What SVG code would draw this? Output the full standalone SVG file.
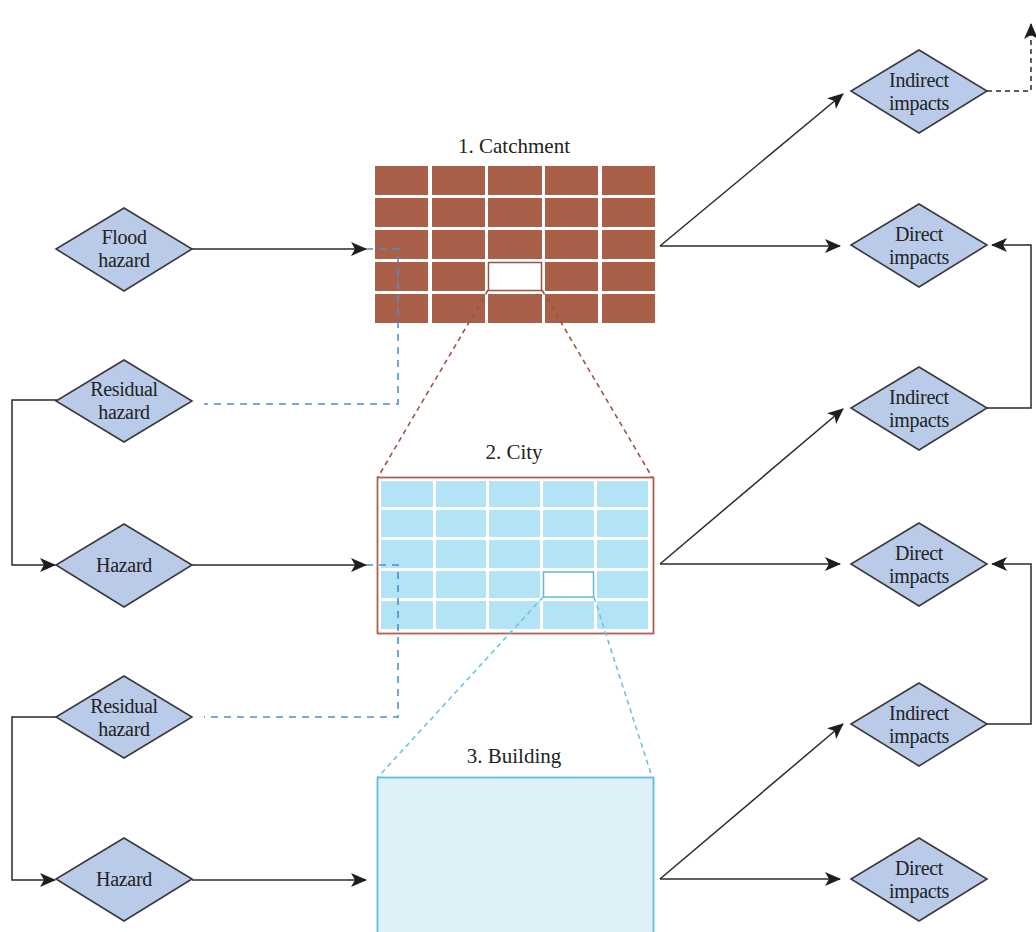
<svg xmlns="http://www.w3.org/2000/svg" width="1036" height="932" viewBox="0 0 1036 932">
<style>
.dia{fill:#bacbea;stroke:#3a3a3a;stroke-width:1.6}
.lbl{font-family:"Liberation Serif",serif;font-size:20px;fill:#222;text-anchor:middle;letter-spacing:-0.3px}
.ttl{font-family:"Liberation Serif",serif;font-size:21px;fill:#222;text-anchor:middle}
.con{fill:none;stroke:#2a2a2a;stroke-width:1.5}
.bd{fill:none;stroke:#4a8fd6;stroke-width:1.6;stroke-dasharray:7,6}
.rd{fill:none;stroke:#a0523f;stroke-width:1.6;stroke-dasharray:5,4}
.ld{fill:none;stroke:#6cc3e6;stroke-width:1.6;stroke-dasharray:5,4}
.bk{fill:#a95f48}
.cb{fill:#b3e4f6}
</style>
<defs>
<marker id="ah" markerUnits="userSpaceOnUse" markerWidth="18" markerHeight="16" refX="15" refY="7" orient="auto">
<path d="M0,0 L16,7 L0,14 L4,7 z" fill="#1e1e1e"/>
</marker>
</defs>

<g id="catchment">
<text class="ttl" x="514" y="153">1. Catchment</text>
<g class="bk">
<rect x="375" y="166" width="53" height="29"/><rect x="432" y="166" width="53" height="29"/><rect x="488" y="166" width="54" height="29"/><rect x="545" y="166" width="53" height="29"/><rect x="602" y="166" width="53" height="29"/>
<rect x="375" y="198" width="53" height="29"/><rect x="432" y="198" width="53" height="29"/><rect x="488" y="198" width="54" height="29"/><rect x="545" y="198" width="53" height="29"/><rect x="602" y="198" width="53" height="29"/>
<rect x="375" y="230" width="53" height="29"/><rect x="432" y="230" width="53" height="29"/><rect x="488" y="230" width="54" height="29"/><rect x="545" y="230" width="53" height="29"/><rect x="602" y="230" width="53" height="29"/>
<rect x="375" y="262" width="53" height="29"/><rect x="432" y="262" width="53" height="29"/><rect x="545" y="262" width="53" height="29"/><rect x="602" y="262" width="53" height="29"/>
<rect x="375" y="294" width="53" height="29"/><rect x="432" y="294" width="53" height="29"/><rect x="488" y="294" width="54" height="29"/><rect x="545" y="294" width="53" height="29"/><rect x="602" y="294" width="53" height="29"/>
</g>
<rect x="488.5" y="262.5" width="53" height="28" fill="#fff" stroke="#a0523f" stroke-width="1.5"/>
</g>

<g id="city">
<text class="ttl" x="514" y="459">2. City</text>
<rect x="377.5" y="477.5" width="276" height="156" fill="#fff" stroke="#b0604c" stroke-width="1.8"/>
<g class="cb">
<rect x="381" y="481" width="52" height="26"/><rect x="436" y="481" width="50" height="26"/><rect x="489" y="481" width="51" height="26"/><rect x="543" y="481" width="51" height="26"/><rect x="597" y="481" width="51" height="26"/>
<rect x="381" y="510" width="52" height="27"/><rect x="436" y="510" width="50" height="27"/><rect x="489" y="510" width="51" height="27"/><rect x="543" y="510" width="51" height="27"/><rect x="597" y="510" width="51" height="27"/>
<rect x="381" y="540" width="52" height="28"/><rect x="436" y="540" width="50" height="28"/><rect x="489" y="540" width="51" height="28"/><rect x="543" y="540" width="51" height="28"/><rect x="597" y="540" width="51" height="28"/>
<rect x="381" y="571" width="52" height="27"/><rect x="436" y="571" width="50" height="27"/><rect x="489" y="571" width="51" height="27"/><rect x="597" y="571" width="51" height="27"/>
<rect x="381" y="601" width="52" height="28"/><rect x="436" y="601" width="50" height="28"/><rect x="489" y="601" width="51" height="28"/><rect x="543" y="601" width="51" height="28"/><rect x="597" y="601" width="51" height="28"/>
</g>
<rect x="543.5" y="572" width="50" height="25" fill="#fff" stroke="#5fb8dc" stroke-width="1.5"/>
</g>

<g id="building">
<text class="ttl" x="514" y="763">3. Building</text>
<rect x="377.5" y="777.5" width="276" height="170" fill="#def0f8" stroke="#5ebde2" stroke-width="1.8"/>
</g>

<g id="connectors">
<path class="con" d="M192,249 H366" marker-end="url(#ah)"/>
<path class="con" d="M57,400 H12 V565 H55" marker-end="url(#ah)"/>
<path class="con" d="M192,565 H366" marker-end="url(#ah)"/>
<path class="con" d="M57,717 H12 V880 H55" marker-end="url(#ah)"/>
<path class="con" d="M192,880 H366" marker-end="url(#ah)"/>
<path class="bd" d="M366,249 H398 V404 H204"/>
<path class="bd" d="M366,565 H398 V717 H204"/>
<path class="rd" d="M488,290 L378,477 M542,290 L652,477"/>
<path class="ld" d="M543,597 L378,777 M594,597 L652,777"/>
<path class="con" d="M660,246 L843,94" marker-end="url(#ah)"/>
<path class="con" d="M660,246 H840" marker-end="url(#ah)"/>
<path class="con" d="M660,564 L843,409" marker-end="url(#ah)"/>
<path class="con" d="M660,564 H840" marker-end="url(#ah)"/>
<path class="con" d="M660,879 L843,724" marker-end="url(#ah)"/>
<path class="con" d="M660,879 H840" marker-end="url(#ah)"/>
<path class="con" d="M987,91 H1031 V24" stroke-dasharray="5,4" marker-end="url(#ah)"/>
<path class="con" d="M987,408 H1031 V245 H992" marker-end="url(#ah)"/>
<path class="con" d="M987,724 H1031 V564 H992" marker-end="url(#ah)"/>
</g>

<g id="flood-hazard"><path class="dia" d="M124,208 L192,249 L124,291 L56,249 Z"/><text class="lbl" x="124" y="244">Flood</text><text class="lbl" x="124" y="267">hazard</text></g>
<g id="residual-hazard-1"><path class="dia" d="M124,360 L192,401 L124,442 L56,401 Z"/><text class="lbl" x="124" y="396">Residual</text><text class="lbl" x="124" y="419">hazard</text></g>
<g id="hazard-1"><path class="dia" d="M124,524 L192,565 L124,607 L56,565 Z"/><text class="lbl" x="124" y="572">Hazard</text></g>
<g id="residual-hazard-2"><path class="dia" d="M124,676 L192,717 L124,758 L56,717 Z"/><text class="lbl" x="124" y="713">Residual</text><text class="lbl" x="124" y="736">hazard</text></g>
<g id="hazard-2"><path class="dia" d="M124,838 L192,879 L124,921 L56,879 Z"/><text class="lbl" x="124" y="886">Hazard</text></g>

<g id="indirect-1"><path class="dia" d="M919,50 L987,91 L919,133 L851,91 Z"/><text class="lbl" x="919" y="87">Indirect</text><text class="lbl" x="919" y="110">impacts</text></g>
<g id="direct-1"><path class="dia" d="M919,204 L987,245 L919,287 L851,245 Z"/><text class="lbl" x="919" y="241">Direct</text><text class="lbl" x="919" y="264">impacts</text></g>
<g id="indirect-2"><path class="dia" d="M919,367 L987,408 L919,450 L851,408 Z"/><text class="lbl" x="919" y="404">Indirect</text><text class="lbl" x="919" y="427">impacts</text></g>
<g id="direct-2"><path class="dia" d="M919,523 L987,564 L919,606 L851,564 Z"/><text class="lbl" x="919" y="560">Direct</text><text class="lbl" x="919" y="583">impacts</text></g>
<g id="indirect-3"><path class="dia" d="M919,683 L987,724 L919,766 L851,724 Z"/><text class="lbl" x="919" y="720">Indirect</text><text class="lbl" x="919" y="743">impacts</text></g>
<g id="direct-3"><path class="dia" d="M919,838 L987,879 L919,921 L851,879 Z"/><text class="lbl" x="919" y="875">Direct</text><text class="lbl" x="919" y="898">impacts</text></g>
</svg>
